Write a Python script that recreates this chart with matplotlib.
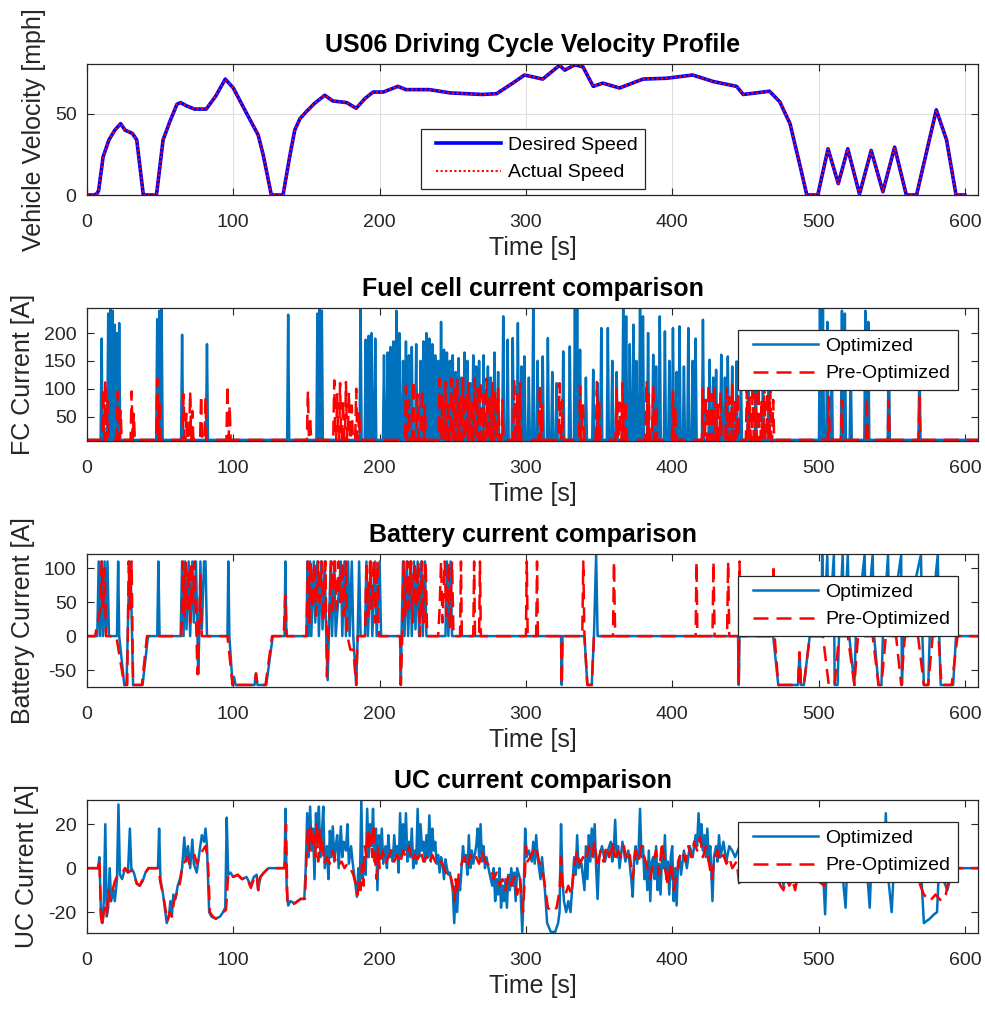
import numpy as np
import matplotlib
matplotlib.use("Agg")
import matplotlib.pyplot as plt
from matplotlib.lines import Line2D
from matplotlib.legend_handler import HandlerLine2D

plt.rcParams['font.family'] = ['Liberation Sans', 'DejaVu Sans']
plt.rcParams['axes.unicode_minus'] = False

# ---------------- data ----------------
time_ticks = [0, 100, 200, 300, 400, 500, 600]
t_end = 609

# US06 speed profile, (time [s], speed [mph]) breakpoints
velocity_pts = [
    (0, 0), (5, 0), (7, 1), (8, 3), (11, 23.5), (15, 34), (19, 40), (23, 44), (26, 40),
    (31, 38), (34, 34), (38.5, 0), (47.5, 0), (52, 34), (56.5, 45), (61.5, 56), (64, 57),
    (68, 55), (73.5, 53), (81.5, 53), (88, 61), (94.5, 71.5), (100, 66), (109, 50.5),
    (117, 37), (120.5, 24.5), (126, 0), (134, 0), (138.5, 23.5), (142, 40), (145.5, 47),
    (150, 51.5), (155.5, 56.5), (162.5, 61.5), (168, 58), (177.5, 57), (184, 53.5),
    (190, 59.5), (195.5, 63.5), (202.5, 63.5), (212.5, 67), (218, 65), (234, 65),
    (248, 63), (270, 62), (280, 62.5), (291, 69), (299, 74), (311.5, 71.5), (323, 80),
    (326.5, 77), (333.5, 80.3), (339, 79), (346, 67), (352.5, 69), (364, 66), (380, 71.5),
    (396, 72), (414, 74), (428, 70), (444, 67), (448.5, 62), (466.5, 64), (473.5, 57.5),
    (480.5, 44), (487, 19.5), (492, 0), (499.5, 0), (506.5, 28.5), (513.5, 7), (520, 28.5),
    (528, 0.5), (536, 27.5), (544, 2), (552, 29.5), (560, 0), (567, 0), (580.5, 52.5),
    (587.5, 34), (594, 0), (600, 0),
]
# measured vehicle speed tracks the demand
actual_pts = velocity_pts

# fuel cell current pulses, (time [s], peak [A]) on a standby level
fc_base = 8.0
fc_opt_spikes = [
    (10, 190), (14.5, 235), (16, 245), (17.5, 240), (19, 215), (20.5, 200), (22, 218),
    (48, 225), (49.5, 240), (51, 245), (65, 197), (82, 180), (137.5, 233), (157.5, 235),
    (159, 245), (160.5, 240), (187, 245), (190.5, 188), (192.5, 195), (194.5, 200),
    (197, 190), (203, 160), (205.5, 165), (207.5, 175), (209.5, 185), (211.5, 240),
    (213.5, 200), (216, 150), (218, 185), (220, 160), (222, 175), (225, 180), (228, 150),
    (230, 185), (232, 200), (234, 190), (236, 180), (238, 160), (240, 150), (242, 220),
    (244, 170), (246, 165), (248, 150), (250, 160), (252, 130), (254, 155), (256, 120),
    (258, 165), (260, 150), (262, 110), (264, 160), (266, 140), (268, 150), (271, 160),
    (274, 140), (276, 120), (278.5, 165), (281, 130), (284.5, 230), (287.5, 188),
    (291, 191), (294.5, 218), (297, 140), (299, 158), (302, 120), (305, 243), (308, 150),
    (311.5, 158), (315, 191), (318, 130), (321, 110), (325.5, 167), (330, 176),
    (333.5, 245), (335, 245), (337, 170), (341, 120), (346, 134), (349, 110), (351.5, 209),
    (356, 209), (359, 150), (362, 130), (366.5, 243), (368.5, 230), (371, 180),
    (373.5, 215), (375.5, 150), (378, 245), (380, 230), (383.5, 200), (387, 161),
    (389, 140), (391.5, 230), (395, 203), (398, 150), (400.5, 209), (403, 130), (405, 212),
    (408, 140), (411, 209), (414, 150), (416, 190), (421, 224), (425.5, 152), (428, 120),
    (430, 134), (433.5, 161), (436, 120), (438, 158), (441, 140), (444, 149), (447, 120),
    (452, 130), (457, 150), (462, 120), (466, 140), (501, 245), (503, 245), (506, 220),
    (509, 180), (516, 240), (518, 235), (522, 150), (532, 240), (534, 220), (548, 200),
    (569, 150),
]
fc_pre_spikes = [
    (11, 100), (12.5, 115), (14, 80), (21, 95), (23, 60), (30.5, 95), (32, 55), (48, 118),
    (49.5, 80), (66, 90), (68, 55), (70.5, 95), (72, 60), (78, 88), (81, 85), (96, 107),
    (97.5, 70), (151, 96), (152.5, 50), (169, 115), (171, 90), (173, 110), (175, 80),
    (177, 112), (179, 95), (181, 70), (184, 100), (186, 60), (218, 105), (220, 80),
    (223, 115), (226, 90), (229, 100), (231, 70), (241, 118), (243, 90), (245, 112),
    (247, 80), (249, 118), (251, 100), (253, 115), (255, 85), (257, 118), (259, 95),
    (261, 110), (263, 80), (265, 118), (267, 100), (269, 112), (271, 90), (273, 118),
    (275, 85), (277, 110), (279, 95), (281, 100), (284, 80), (292, 118), (294, 90),
    (296, 110), (309.5, 105), (311, 70), (323, 110), (325, 80), (337, 105), (339, 70),
    (348.5, 112), (350, 80), (362, 100), (364, 75), (366, 110), (368, 80), (382.5, 115),
    (384, 90), (387, 105), (389, 70), (400.5, 95), (402, 70), (421, 100), (423, 80),
    (425, 110), (427, 90), (429, 105), (431, 80), (433, 95), (437, 100), (439, 85),
    (441, 110), (443, 80), (445, 95), (451, 100), (453, 85), (455, 110), (457, 90),
    (459, 105), (461, 80), (463, 110), (465, 95), (467, 100), (469, 80), (507, 85),
    (516, 80), (533, 85), (548, 80), (569, 85),
]

# battery current, (time [s], current [A])
batt_opt_pts = [
    (0, 0), (7, 0), (8, 110), (9, 0), (10, 110), (11, 0), (12, 110), (13, 5), (14, 110),
    (15, 0), (20.5, 0), (21.3, 110), (22, 0), (25.5, -72), (27, -72), (29, 110), (30, 80),
    (31.5, -72), (38, -72), (41.7, 0), (48, 0), (48.8, 110), (49.6, 0), (64, 0), (65, 110),
    (66, 0), (67, 110), (68, 10), (69.5, 110), (70.5, 0), (72, 110), (73, 20), (74.5, 110),
    (75.5, 0), (76, -56), (76.7, 0), (77.5, 110), (78.5, 10), (80, 110), (81, 110), (82, 0),
    (96, 0), (96.6, 110), (97.3, 0), (99.5, -72), (100.5, -60), (101.5, -72), (114.5, -72),
    (115.5, -55), (116.5, -72), (122.5, -72), (127, 0), (135, 0), (135.6, 110), (136.3, 0),
    (150, 0), (150.7, 110), (151.5, 0), (152.5, 110), (153.3, 0), (155, 110), (156, 20),
    (157.5, 110), (158.5, 0), (160, 110), (161, 10), (162.5, 110), (163.5, 0), (164.5, -65),
    (165.3, 0), (166.5, 110), (167.5, 0), (169, 110), (170, 0), (173.5, 110), (174.5, 0),
    (176, 110), (177, 0), (178.5, 110), (179.5, 0), (181, 110), (182, 0), (184, -72),
    (185, 0), (186, 110), (187, 0), (190, 0), (191, 110), (192, 0), (194, 110), (195, 0),
    (197, 110), (198, 0), (200, 110), (201, 0), (214, 0), (214.5, -72), (215, 0),
    (216, 110), (217, 0), (218.5, 110), (219.5, 0), (221, 110), (222, 0), (223.5, 110),
    (224.5, 10), (226, 110), (227, 0), (228.5, 110), (229.5, 0), (231, 110), (232, 0),
    (245, 0), (246, 110), (247, 0), (248.5, 110), (249.5, 0), (251, 0), (324, 0),
    (324.5, -72), (325, 0), (340, 0), (342, -72), (345, -72), (346.5, 0), (348, 120),
    (349, 0), (445, 0), (445.5, -72), (446, 0), (469, 0), (472.5, -72), (486, -72),
    (487, -24), (488, -72), (490, -72), (494, 0), (502, 0), (502.5, 120), (503.5, 0),
    (506, 120), (507, 0), (510.5, 120), (511, -72), (513, -72), (514, 0), (516.5, 120),
    (517.5, 0), (520, 120), (521, 0), (524.5, -72), (525.5, 0), (531.5, 120), (532.5, 0),
    (537, 120), (538, 0), (541, -72), (543, -72), (544, 0), (547.5, 120), (548.5, 0),
    (556.5, 120), (557, -72), (558, 0), (570, 120), (571, 0), (572, -72), (575, -72),
    (576, 0), (581.5, 120), (582.5, 0), (583.5, -72), (592, -72), (594, 0), (609, 0),
]
batt_pre_pts = [
    (0, 0), (5.5, 0), (9, 40), (10, 110), (11, 40), (12, 100), (13, 0), (20, 0),
    (25.5, -72), (27.5, -72), (28.5, 110), (29.5, 40), (30.5, 110), (31.5, -72),
    (37.5, -72), (41, 0), (64.5, 0), (65.5, 110), (66.5, 30), (67.5, 110), (68.5, 40),
    (69.5, 100), (70.5, 20), (71.5, 110), (72.5, 50), (73.5, 110), (74.5, 30), (75.5, -56),
    (76.5, 0), (77.5, 90), (78.5, 0), (96, 0), (99.5, -72), (100.5, -65), (101.5, -72),
    (114.5, -72), (115.5, -55), (116.5, -72), (122, -72), (126.5, 0), (134.5, 0),
    (135.5, 60), (136.5, 0), (150, 0), (151, 110), (152, 20), (153, 110), (154, 40),
    (155.5, 110), (156.5, 30), (158, 110), (159, 50), (160.5, 110), (161.5, 20), (163, 110),
    (164, -60), (165, 0), (167, 110), (168, 30), (169.5, 110), (170.5, 40), (172, 110),
    (173, 50), (174.5, 110), (175.5, 30), (177, 110), (178, 0), (180, -20), (182, -20),
    (184, -72), (185, 0), (190, 0), (191, 110), (192, 30), (193.5, 110), (194.5, 40),
    (196, 110), (197, 20), (198.5, 110), (199.5, 0), (214, 0), (214.5, -72), (215.5, 0),
    (216.5, 110), (217.5, 30), (219, 110), (220, 40), (221.5, 110), (222.5, 20), (224, 110),
    (225, 40), (226.5, 110), (227.5, 0), (229, 110), (230, 20), (231.5, 110), (232.5, 0),
    (240, 0), (241, 40), (242, 110), (243, 20), (244.5, 110), (245.5, 30), (247, 110),
    (248, 10), (249.5, 110), (250.5, 0), (255, 0), (255.6, 110), (256.2, 0), (264, 0),
    (264.6, 110), (265.2, 0), (268, 0), (268.6, 110), (269.2, 0), (300, 0), (300.6, 110),
    (301.2, 0), (307, 0), (307.6, 110), (308.2, 0), (324, 0), (324.5, -72), (325, 0),
    (338.5, 0), (339.2, 110), (340, 0), (342, -72), (345, -72), (346.5, 0), (359.5, 0),
    (360.2, 110), (361, 0), (416, 0), (416.6, 110), (417.2, 0), (427.5, 0), (428.2, 110),
    (429, 0), (437.5, 0), (438.2, 110), (439, 0), (445, 0), (445.5, -72), (446, 110),
    (446.6, 0), (468.5, 0), (469.2, 105), (470, 0), (472.5, -72), (486, -72), (487, -24),
    (488, -72), (490, -72), (494, 0), (503, 0), (507, -72), (511, -72), (514, 0), (520, 0),
    (524.5, -72), (527, 0), (537, 0), (541, -72), (543, -72), (546, 0), (553, 0),
    (556.5, -72), (559, 0), (568, 0), (572, -72), (575, -72), (578, 0), (582, 0),
    (584, -72), (591, -72), (595, 0), (609, 0),
]

# ultracapacitor current, (time [s], current [A])
uc_opt_pts = [
    (0, 0), (7.5, 0), (8.5, 5), (9.5, -20), (10.5, -25), (11.5, -15), (12.5, 20),
    (13.5, -22), (14.5, -18), (15.5, 0), (16.5, -15), (18, -10), (19, -15), (20.5, -5),
    (21.5, 29), (22.5, -3), (24, -5), (26, 0), (28, -2), (29.3, 18), (30.3, 0), (32, -2),
    (34, -7), (36, -8), (38, -6), (40, -2), (42, 0), (48.5, 0), (49.3, 18), (50.2, -5),
    (52, -12), (53.5, -20), (54.5, -25), (56, -22), (57, -15), (58, -22), (59, -12),
    (60.5, -14), (62, -8), (63.5, -5), (65, 0), (66.5, 14), (67.5, 3), (69, 10), (70.5, 0),
    (72, 13), (73, 2), (75, -2), (77, 8), (78.5, 15), (80, 12), (81, 18), (82, 10),
    (83.5, -20), (85, -22), (88, -23), (91, -22), (93, -20), (94.5, -18), (95.5, 23),
    (96.5, -3), (98, -2), (100, -4), (103, -3), (106, -5), (109, -4), (112, -8), (114, -4),
    (116, -3), (117, -10), (118.5, -4), (121, -2), (124, 0), (135, 0), (135.7, 27),
    (136.5, -10), (137.5, -17), (139, -15), (142, -16), (146, -14), (148.5, -14),
    (149.5, 0), (150.5, 25), (151.5, 5), (152.5, 28), (153.5, 8), (154.5, 18), (155.5, -5),
    (156.5, 25), (157.5, 12), (158.5, 28), (159.5, 5), (160.5, 15), (161.5, 28),
    (162.5, 0), (164, 10), (165, -5), (166, 17), (167, 5), (168, 19), (169, 3), (170, 10),
    (171, 15), (172, 0), (173.5, 19), (174.5, 5), (175.5, 12), (177, 8), (178, 20),
    (179, 2), (180.5, 10), (181.5, 3), (183, -5), (184.5, -13), (185.5, 0), (186.5, -8),
    (187.5, 31), (188.5, -5), (189.5, 5), (190.5, -3), (191.5, 27), (192.5, 5),
    (193.5, 20), (194.5, 10), (195.5, 27), (196.5, 3), (197.5, 18), (198.5, -10),
    (199.5, 15), (200.5, 5), (201.5, 18), (202.5, 2), (204, 10), (205, 0), (206, 15),
    (207, 5), (208, 8), (209, 3), (210, 15), (211, 5), (212, 10), (213, -2), (214, 25),
    (215, 5), (216, 20), (217, 8), (218, 25), (219, 3), (220, 12), (221, 5), (222, 18),
    (223, 0), (224, 8), (225, 2), (226, 27), (227, 5), (228, 20), (229, 8), (230, 12),
    (231, 3), (232, 15), (233, 5), (234, 24), (235, 3), (236, 18), (237, 8), (238, 12),
    (239, 2), (240, 6), (241, -2), (242, 5), (243, 2), (244, -5), (245, 4), (246, 0),
    (247, -3), (248, -2), (250, -10), (251, -25), (252, -8), (253, -20), (254, -5),
    (255, -10), (256, 0), (257, 10), (258, 3), (259, 6), (260, -3), (261, 15), (262, 0),
    (263, 8), (264, 2), (266, 10), (267, 18), (268, 5), (269, 20), (270, 3), (271, 10),
    (272, 0), (273, 5), (275, -2), (277, -8), (278, 0), (279, -15), (280, -5), (281, -12),
    (282, 0), (283, -18), (284, -8), (285, -15), (286, -5), (287, -18), (288, -3),
    (289, -10), (290, 0), (291, -8), (292, -2), (293, -15), (294, 0), (296, -5),
    (297.5, -29), (298.5, -10), (299.5, 18), (300.5, 5), (302, 8), (304, 3), (305, 12),
    (306, 2), (307, 15), (308, 5), (310, -5), (311, 5), (313, -10), (314.5, -25),
    (317, -29), (320, -29), (322, -25), (323, -20), (324, 20), (325, -5), (326, -15),
    (327.5, -20), (329, -15), (330.5, -20), (332, -5), (333, 5), (334, -3), (335, 15),
    (336, 0), (338, 2), (340, -10), (341, 10), (342, -5), (343, 15), (344, 3), (345, 18),
    (346, 5), (347, 20), (348, 0), (349, -14), (350, 5), (352, 10), (354, 3), (356, 8),
    (358, 12), (359, 3), (360, 8), (361, 22), (362, 5), (363, 10), (364, 0), (366, 12),
    (368, 3), (370, 8), (372, -5), (373, -13), (374, 5), (375, 10), (376, 2), (377, 8),
    (378, 27), (379, 5), (380, 10), (381, -5), (382, 3), (383, -10), (384, 8), (385, -15),
    (386, 3), (387, 5), (388, -5), (389, 10), (390, -10), (391, 2), (392, -12), (393, 5),
    (394, 0), (395, 15), (396, -5), (397, 3), (398, -12), (399, 5), (400, 10),
    (401, -15), (402, 0), (403, -17), (404, 3), (405, 5), (406, -3), (408, 8), (410, 0),
    (412, 10), (414, 5), (416, 15), (417, 10), (418, 25), (419, 12), (420, 20), (421, 8),
    (422, 15), (423, 5), (424, 18), (425, 3), (426, 10), (427.5, -15), (428.5, 5),
    (430, 10), (431, 3), (432, 15), (433, 5), (435, 12), (437, 3), (439, 10), (441, 8),
    (443, 5), (446, 10), (448, 0), (450, 12), (452, 3), (455, 8), (458, 0), (461, 5),
    (464, -3), (467, 5), (470, 0), (472, -5), (474, 3), (476, -8), (478, 2), (480, -4),
    (482, 5), (484, -5), (486, 0), (488, -3), (490, 0), (503, 0), (504.5, -21),
    (505.5, 0), (508, 5), (512, 0), (516, 0), (518.5, -18), (519.5, 0), (524, 0),
    (528, 5), (533, 0), (535, -18), (536, 0), (540, 0), (545, 5), (546, 25), (547, 0),
    (550, -20), (551.5, 0), (570, 0), (572, -25), (576, -23), (579, -21), (581, -20),
    (582, -5), (584, -3), (588, -10), (590, -5), (592, 0), (609, 0),
]
uc_pre_pts = [
    (0, 0), (7.5, 0), (8.5, 4), (9.5, -22), (10.5, -26), (11.5, -20), (12.5, -18),
    (13.5, -22), (14.5, -10), (16, -15), (17.5, -10), (19, -6), (21, -3), (24, -2),
    (26, 0), (28, -2), (30, -1), (32, -3), (34, -7), (36, -8), (38, -5), (40, -2), (42, 0),
    (49, 0), (50, -6), (52, -12), (53.5, -18), (55, -24), (56.5, -20), (58, -22),
    (59.5, -15), (61, -12), (62.5, -10), (64, -5), (65.5, 2), (67, 3), (68.5, 5), (70, 2),
    (72, 4), (73.5, 6), (75, 2), (77, 5), (79, 8), (81, 10), (82.5, 5), (84, -20),
    (86, -22), (88, -23), (91, -22), (93, -20), (95, -19), (96.5, -3), (98, -2), (100, -4),
    (103, -3), (106, -5), (109, -4), (112, -9), (114, -5), (116, -3), (117, -10),
    (118.5, -4), (121, -2), (124, 0), (135, 0), (136, 20), (137, -15), (138.5, -17),
    (142, -16), (146, -14), (149, -14), (150, 5), (151, 18), (152, 8), (153, 20), (154, 10),
    (155, 15), (156, 5), (157, 20), (158, 3), (159, 18), (160, 8), (161, 12), (162, 2),
    (164, 5), (166, 2), (168, 8), (170, 3), (172, 1), (174, 3), (176, 0), (178, 2),
    (180, 0), (182, -3), (184, -8), (185, -12), (186, -5), (187, -10), (188, 2), (189, -8),
    (190, 10), (191, 5), (192, 18), (193, 8), (194, 15), (195, 5), (196, 20), (197, 3),
    (198, -5), (199, 10), (200, 0), (202, 8), (204, 2), (206, 5), (208, 8), (210, 3),
    (212, 6), (214, 2), (216, 8), (218, 5), (220, 10), (222, 3), (224, 6), (226, 4),
    (228, 8), (230, 3), (232, 5), (234, 2), (236, 6), (238, 3), (240, 1), (242, 3),
    (244, 0), (246, -3), (248, -2), (250, -8), (251, -15), (252, -5), (253, -12),
    (254, -3), (256, 2), (258, 5), (260, 0), (262, 6), (264, 3), (266, 5), (268, 2),
    (270, 8), (272, 3), (274, 2), (276, 0), (278, -5), (280, -2), (282, -8), (284, -5),
    (286, -10), (288, -3), (290, -8), (292, -4), (294, -12), (296, -5), (298, -20),
    (299, -8), (300, 10), (301, 3), (303, 5), (305, 8), (307, 10), (309, 3), (311, 0),
    (313, -8), (315, -18), (318, -20), (321, -18), (323, -10), (324, 5), (325, -8),
    (327, -12), (329, -8), (331, -12), (333, 0), (335, 8), (337, 2), (339, 5), (341, 3),
    (343, 10), (345, 5), (347, 12), (349, 0), (351, 8), (353, 3), (355, 10), (357, 5),
    (359, 12), (361, 3), (363, 8), (365, 5), (367, 10), (369, 3), (371, 6), (373, -5),
    (375, 8), (377, 3), (379, 10), (381, 5), (383, 0), (385, -5), (387, 3), (389, 8),
    (391, -3), (393, 12), (395, 0), (397, -8), (399, 3), (401, -10), (403, -3), (405, 5),
    (407, 8), (409, 3), (411, 10), (413, 5), (415, 12), (417, 8), (419, 14), (421, 5),
    (423, 10), (425, 3), (427, -5), (429, 5), (431, 8), (433, 3), (435, 6), (437, 2),
    (439, 5), (441, 0), (444, 3), (446, -8), (448, 0), (452, 2), (456, 0), (460, 3),
    (464, 0), (468, 2), (472, -5), (474, -8), (476, -10), (478, -4), (480, -8), (482, -5),
    (484, -10), (486, -3), (488, 0), (504, -8), (506, 0), (518, -5), (520, 0), (535, -3),
    (537, 0), (550, -5), (552, 0), (565, 0), (572, -12), (576, -15), (580, -12),
    (584, -15), (587, -12), (589, -5), (592, 0), (609, 0),
]

# ---------------- helpers ----------------
def split(pts):
    arr = np.asarray(pts, dtype=float)
    return arr[:, 0], arr[:, 1]


def pulse_trace(spikes, base, half=0.7):
    t, v = [0.0], [base]
    for ts, pk in sorted(spikes):
        t += [ts - half, ts, ts + half]
        v += [base, pk, base]
    t.append(t_end)
    v.append(base)
    return np.array(t), np.array(v)


class InsetLineHandler(HandlerLine2D):
    """Legend line that starts a little inside its handle box."""

    def get_xdata(self, legend, xdescent, ydescent, width, height, fontsize):
        xd, xm = super().get_xdata(legend, xdescent, ydescent, width, height, fontsize)
        xd = np.array(xd, dtype=float)
        xd[0] += 0.37 * fontsize
        return xd, xm


# ---------------- style ----------------
DARK = '#262626'
BLUE = '#0072BD'
RED = '#FF0000'
DASH = (0, (6, 3.2))
TICK_FS = 14
LABEL_FS = 18
TITLE_FS = 18
LEG_FS = 14
LW = 1.8

fig = plt.figure(figsize=(9.85, 10.09), dpi=100)
W, H = 985.0, 1009.0


def make_axes(top_px, bottom_px):
    left, right = 87.0, 978.0
    return fig.add_axes([left / W, 1 - bottom_px / H, (right - left) / W,
                         (bottom_px - top_px) / H])


def style_axes(ax, title, ylabel, yticks, ylim):
    ax.set_xlim(0, t_end)
    ax.set_ylim(*ylim)
    ax.set_xticks(time_ticks)
    ax.set_yticks(yticks)
    ax.tick_params(direction='in', top=True, right=True, length=5, width=0.8,
                   colors=DARK, labelsize=TICK_FS)
    ax.tick_params(axis='x', pad=13.5)
    ax.tick_params(axis='y', pad=7.5)
    for s in ax.spines.values():
        s.set_color(DARK)
        s.set_linewidth(0.9)
    ax.set_title(title, fontsize=TITLE_FS, fontweight='bold', pad=8.5, color='black')
    ax.set_xlabel('Time [s]', fontsize=LABEL_FS, color=DARK, labelpad=4)
    ax.set_ylabel(ylabel, fontsize=LABEL_FS, color=DARK, labelpad=6.5)


def add_legend(ax, handles, labels, x_px, y_px):
    leg = ax.legend(handles, labels, loc='upper left',
                    bbox_to_anchor=(x_px / W, 1 - y_px / H),
                    bbox_transform=fig.transFigure, fontsize=LEG_FS,
                    frameon=True, fancybox=False, framealpha=1, edgecolor=DARK,
                    borderpad=0.38, labelspacing=0.5, handlelength=3.72,
                    handletextpad=0.38, borderaxespad=0,
                    handler_map={Line2D: InsetLineHandler()})
    leg.get_frame().set_linewidth(0.9)
    leg.set_zorder(10)
    return leg


def opt_handle():
    return Line2D([], [], color=BLUE, lw=LW)


def pre_handle():
    return Line2D([], [], color=RED, lw=LW, linestyle=DASH)


# ---- panel 1: speed ----
ax1 = make_axes(64, 195)
vt, vv = split(velocity_pts)
at, av = split(actual_pts)
ax1.plot(vt, vv, color='#0000FF', lw=2.6)
ax1.plot(at, av, color=RED, lw=1.5, linestyle=(0, (1, 1.2)))
ax1.grid(True, color='#dedede', lw=0.8)
ax1.set_axisbelow(True)
style_axes(ax1, 'US06 Driving Cycle Velocity Profile', 'Vehicle Velocity [mph]',
           [0, 50], (0, 80.8))
add_legend(ax1,
           [Line2D([], [], color='#0000FF', lw=2.6),
            Line2D([], [], color=RED, lw=1.5, linestyle=(0, (1, 1.2)))],
           ['Desired Speed', 'Actual Speed'], 421, 129)

# ---- panel 2: fuel cell ----
ax2 = make_axes(308, 441)
ft, fv = pulse_trace(fc_opt_spikes, fc_base)
pt, pv = pulse_trace(fc_pre_spikes, fc_base)
ax2.plot(ft, fv, color=BLUE, lw=LW)
ax2.plot(pt, pv, color=RED, lw=LW, linestyle=DASH)
style_axes(ax2, 'Fuel cell current comparison', 'FC Current [A]',
           [50, 100, 150, 200], (6, 245))
add_legend(ax2, [opt_handle(), pre_handle()], ['Optimized', 'Pre-Optimized'], 738, 330)

# ---- panel 3: battery ----
ax3 = make_axes(554, 687)
bt, bv = split(batt_opt_pts)
qt, qv = split(batt_pre_pts)
ax3.plot(bt, bv, color=BLUE, lw=LW)
ax3.plot(qt, qv, color=RED, lw=LW, linestyle=DASH)
style_axes(ax3, 'Battery current comparison', 'Battery Current [A]',
           [-50, 0, 50, 100], (-75, 121))
add_legend(ax3, [opt_handle(), pre_handle()], ['Optimized', 'Pre-Optimized'], 738, 576)

# ---- panel 4: ultracapacitor ----
ax4 = make_axes(800, 933)
ut, uv = split(uc_opt_pts)
rt, rv = split(uc_pre_pts)
ax4.plot(ut, uv, color=BLUE, lw=LW)
ax4.plot(rt, rv, color=RED, lw=LW, linestyle=DASH)
style_axes(ax4, 'UC current comparison', 'UC Current [A]',
           [-20, 0, 20], (-29.5, 31))
add_legend(ax4, [opt_handle(), pre_handle()], ['Optimized', 'Pre-Optimized'], 738, 822)

fig.savefig('out.png', dpi=100)
